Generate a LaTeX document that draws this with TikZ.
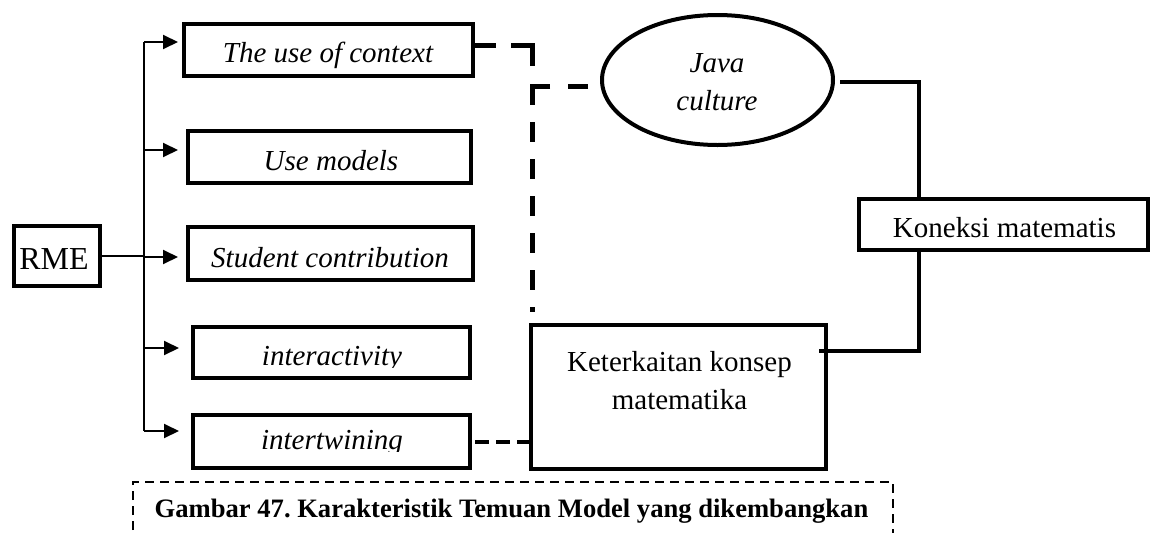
\documentclass[tikz,border=0pt]{standalone}
\usepackage{fontspec}
\setmainfont{Liberation Serif}
\usetikzlibrary{arrows.meta,shapes.geometric,calc}
\frenchspacing

\begin{document}
\begin{tikzpicture}[x=1pt,y=-1pt,
  box/.style={draw,rectangle,line width=4pt,inner sep=0pt},
  oval/.style={draw,ellipse,line width=4pt,inner sep=0pt},
  lbl/.style={inner sep=0pt,anchor=base,font=\fontsize{29}{38}\selectfont},
  ilbl/.style={lbl,font=\fontsize{29}{38}\selectfont\itshape},
  thinln/.style={line width=2pt},
  arr/.style={thinln,-{Triangle[length=15pt,width=14pt]}},
  conn/.style={line width=4pt},
  dconn/.style={line width=5pt},
  capframe/.style={line width=2pt,dash pattern=on 9pt off 6pt},
]
\fill[white] (0,0) rectangle (1152,533);
\useasboundingbox (0,0) rectangle (1152,533);

% root
\node[box,minimum width=86pt,minimum height=60pt] (rme) at (57,256) {};
\node[lbl,font=\fontsize{32}{38}\selectfont] (rmet) at (54,269) {RME};

% the five RME characteristics
\node[box,minimum width=289pt,minimum height=52pt] (b1) at (328.5,50) {};
\node[ilbl] (b1t) at (328,62) {The use of context};
\node[box,minimum width=283pt,minimum height=52pt] (b2) at (329.5,157) {};
\node[ilbl] (b2t) at (331,170) {Use models};
\node[box,minimum width=285pt,minimum height=53pt] (b3) at (330.5,253.5) {};
\node[ilbl] (b3t) at (330,267) {Student contribution};
\node[box,minimum width=277pt,minimum height=51pt] (b4) at (331.5,352.5) {};
\begin{scope}
  \clip (200,330) rectangle (460,367.5);
  \node[ilbl] (b4t) at (332,365) {interactivity};
\end{scope}
\node[box,minimum width=277pt,minimum height=53pt] (b5) at (331.5,441.5) {};
\begin{scope}
  \clip (200,420) rectangle (460,451);
  \node[ilbl] (b5t) at (332,449) {intertwining};
\end{scope}

% right-hand part (base anchor of a two-line label sits on its last line)
\node[oval,minimum width=231pt,minimum height=130pt] (java) at (717.5,80) {};
\node[ilbl,align=center] (javat) at (717,110) {Java\\culture};
\node[box,minimum width=289pt,minimum height=51pt] (kon) at (1003.5,224.5) {};
\node[lbl] (kont) at (1004.5,237) {Koneksi matematis};
\node[box,minimum width=295pt,minimum height=144pt] (ket) at (678.5,397) {};
\node[lbl,align=center] (kett) at (679.5,409) {Keterkaitan konsep\\matematika};

% tree of arrows from RME
\coordinate (a1) at (144,42);
\coordinate (a2) at (144,150);
\coordinate (a3) at (144,257);
\coordinate (a4) at (144,348);
\coordinate (a5) at (144,431);
\draw[thinln] (a1) -- (a5);
\draw[thinln] (rme.east) -- (rme.east -| a3);
\draw[arr,shorten >=4pt] (a1) -- (a1 -| b1.west);
\draw[arr,shorten >=8pt] (a2) -- (a2 -| b2.west);
\draw[arr,shorten >=8pt] (a3) -- (a3 -| b3.west);
\draw[arr,shorten >=12pt] (a4) -- (a4 -| b4.west);
\draw[arr,shorten >=12pt] (a5) -- (a5 -| b5.west);

% dashed links
\coordinate (d1) at (532,45);
\draw[dconn,dash pattern=on 21pt off 15pt on 42pt off 30pt]
  ([yshift=5pt]b1.east) -- (d1) -- ($(d1)+(0,21)$);
\coordinate (d2) at (532,86);
\coordinate (d2e) at (532,312);
\draw[dconn,dash pattern=on 20pt off 18pt on 37pt off 17pt on 20pt off 17pt on 20pt off 17pt on 20pt off 17pt on 20pt off 17pt on 20pt off 17pt on 20pt off 17pt]
  ([xshift=-12pt,yshift=-6pt]java.west) -- (d2) -- (d2e);
\draw[conn,dash pattern=on 14pt off 7pt,dash phase=-3pt] (b5.east) -- (b5.east -| ket.west);

% solid links to Koneksi matematis
\coordinate (jk) at (919,82);
\draw[conn] ([xshift=5pt,yshift=-2pt]java.east) -- (jk) -- (jk |- kon.north);
\coordinate (kk) at (919,351);
\draw[conn] (kk |- kon.south) -- (kk) -- ($(kk -| ket.east)+(-9,0)$);

% caption
\draw[capframe] (133,545) -- (133,482) -- (893,482) -- (893,545);
\node[lbl,font=\fontsize{26.6}{32}\selectfont\bfseries] (cap) at (511.5,517)
  {Gambar 47. Karakteristik Temuan Model yang dikembangkan};
\end{tikzpicture}
\end{document}
